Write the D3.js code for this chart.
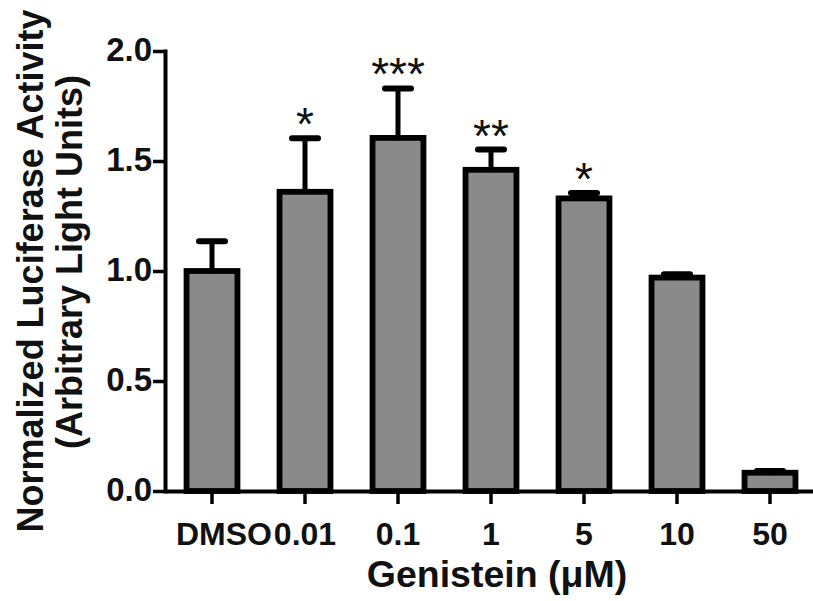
<!DOCTYPE html>
<html>
<head>
<meta charset="utf-8">
<script src="https://cdn.jsdelivr.net/npm/d3@7"></script>
<style>
  html, body { margin: 0; padding: 0; background: #fff; }
  svg { display: block; }
  text { font-family: "Liberation Sans", Arial, Helvetica, sans-serif; fill: #111; }
</style>
</head>
<body>
<svg id="chart" width="813" height="601"></svg>
<script>
// Genistein dose groups and normalized luciferase readings (mean and SEM)
const categories = ["DMSO", "0.01", "0.1", "1", "5", "10", "50"];
const means      = [1.00, 1.36, 1.605, 1.46, 1.33, 0.97, 0.083];
const errors     = [0.135, 0.243, 0.225, 0.092, 0.024, 0.015, 0.008];
const stars      = ["", "*", "***", "**", "*", "", ""];
const yTicks     = [0, 0.5, 1.0, 1.5, 2.0];

const svg = d3.select("#chart");

const y = d3.scaleLinear().domain([0, 2]).range([491, 51]);
const x = d3.scaleBand()
  .domain(categories)
  .range([165.5, 816.5])
  .paddingInner(0.39)
  .paddingOuter(0.195);

const rows = categories.map((c, i) => ({ c, m: means[i], e: errors[i], s: stars[i] }));
const sw = 5.8;

// bars
svg.append("g").selectAll("rect")
  .data(rows).join("rect")
  .attr("x", d => x(d.c) + sw / 2)
  .attr("width", x.bandwidth() - sw)
  .attr("y", d => y(d.m))
  .attr("height", d => y(0) - y(d.m))
  .attr("fill", "#8a8a8a")
  .attr("stroke", "#000")
  .attr("stroke-width", sw);

// upper error bars
const eb = svg.append("g").attr("stroke", "#000").attr("stroke-linecap", "round");
eb.selectAll("line.stem")
  .data(rows).join("line")
  .attr("class", "stem")
  .attr("x1", d => x(d.c) + x.bandwidth() / 2)
  .attr("x2", d => x(d.c) + x.bandwidth() / 2)
  .attr("y1", d => y(d.m))
  .attr("y2", d => y(d.m + d.e))
  .attr("stroke-width", 5);
eb.selectAll("line.cap")
  .data(rows).join("line")
  .attr("class", "cap")
  .attr("x1", d => x(d.c) + x.bandwidth() / 2 - 13)
  .attr("x2", d => x(d.c) + x.bandwidth() / 2 + 13)
  .attr("y1", d => y(d.m + d.e))
  .attr("y2", d => y(d.m + d.e))
  .attr("stroke-width", 6);

// significance marks
svg.append("g").selectAll("text")
  .data(rows.filter(d => d.s)).join("text")
  .attr("x", d => x(d.c) + x.bandwidth() / 2)
  .attr("y", d => y(d.m + d.e) + 2)
  .attr("text-anchor", "middle")
  .style("font-size", "46px")
  .text(d => d.s);

// y axis
const yAxis = svg.append("g")
  .attr("transform", "translate(165,0)")
  .call(d3.axisLeft(y).tickValues(yTicks).tickFormat(d3.format(".1f"))
    .tickSize(12).tickSizeOuter(0).tickPadding(1));
yAxis.select(".domain").attr("stroke-width", 4).attr("stroke-linecap", "square");
yAxis.selectAll(".tick line").attr("stroke-width", 3.5);
yAxis.selectAll(".tick text")
  .attr("dy", "0.3em")
  .style("font-size", "33px").style("font-weight", "bold").attr("fill", "#111");

// x axis
const xAxis = svg.append("g")
  .attr("transform", "translate(0,491)")
  .call(d3.axisBottom(x).tickSize(13).tickSizeOuter(0).tickPadding(18));
xAxis.select(".domain").attr("stroke-width", 4);
xAxis.selectAll(".tick line").attr("stroke-width", 3.5);
xAxis.selectAll(".tick text")
  .style("font-size", "32px").style("font-weight", "bold").attr("fill", "#111")
  .attr("dx", d => d === "DMSO" ? 12 : 0);

// axis titles
svg.append("text")
  .attr("transform", "translate(43,271) rotate(-90)")
  .attr("text-anchor", "middle")
  .style("font-size", "36px").style("font-weight", "bold")
  .text("Normalized Luciferase Activity");
svg.append("text")
  .attr("transform", "translate(82,262) rotate(-90)")
  .attr("text-anchor", "middle")
  .style("font-size", "36px").style("font-weight", "bold")
  .text("(Arbitrary Light Units)");
svg.append("text")
  .attr("x", 497).attr("y", 587)
  .attr("text-anchor", "middle")
  .style("font-size", "37.5px").style("font-weight", "bold")
  .text("Genistein (\u03bcM)");
</script>
</body>
</html>
